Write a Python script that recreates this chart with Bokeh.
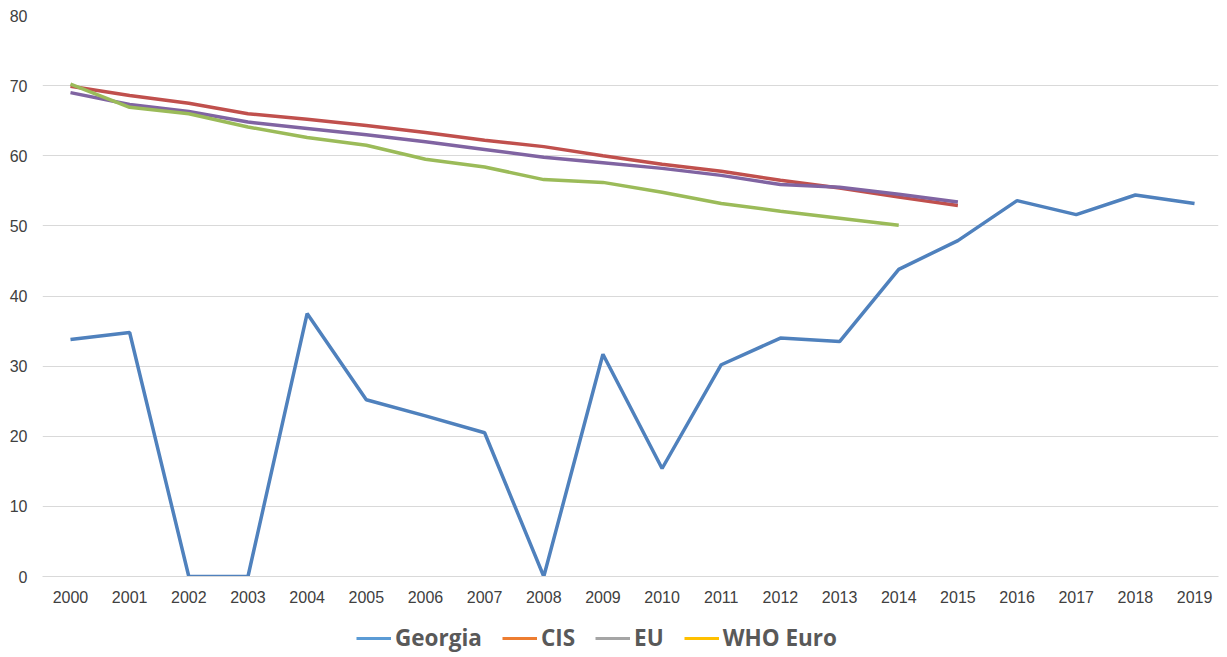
from bokeh.plotting import figure
from bokeh.models import Range1d, FixedTicker, Legend, LegendItem
from bokeh.layouts import column
from bokeh.embed import file_html
from bokeh.resources import INLINE

years = list(range(2000, 2020))
years_16 = list(range(2000, 2016))
years_15 = list(range(2000, 2015))

georgia = [33.8, 34.8, 0.0, 0.0, 37.5, 25.2, 22.9, 20.5, 0.0, 31.7,
           15.4, 30.2, 34.0, 33.5, 43.8, 47.9, 53.6, 51.6, 54.4, 53.2]
cis = [69.9, 68.6, 67.5, 66.0, 65.2, 64.3, 63.3, 62.2, 61.3, 60.0,
       58.8, 57.8, 56.5, 55.4, 54.1, 52.9]
eu = [69.0, 67.3, 66.3, 64.8, 63.9, 63.0, 62.0, 60.9, 59.8, 59.0,
      58.2, 57.2, 55.9, 55.5, 54.5, 53.4]
who_euro = [70.2, 66.9, 66.0, 64.1, 62.6, 61.5, 59.5, 58.4, 56.6, 56.2,
            54.8, 53.2, 52.1, 51.1, 50.1]

legend_labels = ["Georgia", "CIS", "EU", "WHO Euro"]
legend_colors = ["#5B9BD5", "#ED7D31", "#A5A5A5", "#FFC000"]
y_ticks = [0, 10, 20, 30, 40, 50, 60, 70, 80]

p = figure(width=1220, height=612, output_backend="svg", toolbar_location=None,
           x_range=Range1d(1999.527, 2019.405), y_range=Range1d(0, 80),
           min_border_left=42, min_border_right=2, min_border_top=15,
           min_border_bottom=36)
p.outline_line_color = None
p.background_fill_color = "white"
p.border_fill_color = "white"

p.xgrid.grid_line_color = None
p.ygrid.grid_line_color = "#D9D9D9"
p.ygrid.grid_line_width = 1
p.yaxis.ticker = FixedTicker(ticks=y_ticks)
p.xaxis.ticker = FixedTicker(ticks=years)

for ax in (p.xaxis, p.yaxis):
    ax.major_tick_line_color = None
    ax.minor_tick_line_color = None
    ax.major_tick_out = 0
    ax.major_tick_in = 0
    ax.minor_tick_out = 0
    ax.major_label_text_font = "Liberation Sans"
    ax.major_label_text_font_size = "16px"
    ax.major_label_text_color = "#404040"
p.yaxis.axis_line_color = None
p.xaxis.axis_line_color = "#D9D9D9"
p.yaxis.major_label_standoff = 15
p.xaxis.major_label_standoff = 14

p.line(years, georgia, line_color="#4F81BD", line_width=3.5)
p.line(years_16, cis, line_color="#C0504D", line_width=3.5)
p.line(years_16, eu, line_color="#8064A2", line_width=3.5)
p.line(years_15, who_euro, line_color="#9BBB59", line_width=3.5)

# legend strip underneath the chart
lg = figure(width=1220, height=45, output_backend="svg", toolbar_location=None,
            x_range=Range1d(0, 1), y_range=Range1d(0, 1),
            x_axis_location=None, y_axis_location=None,
            min_border=0, min_border_left=0, min_border_right=0,
            min_border_top=0, min_border_bottom=0)
lg.outline_line_color = None
lg.grid.visible = False
lg.border_fill_color = "white"

items = []
for lab, col in zip(legend_labels, legend_colors):
    r = lg.line([2, 3], [2, 3], line_color=col, line_width=3)
    items.append(LegendItem(label=lab, renderers=[r]))

legend = Legend(items=items, orientation="horizontal", location=(314, 4),
                border_line_color=None, background_fill_alpha=0,
                padding=0, margin=0, spacing=20, label_standoff=4,
                glyph_width=35, glyph_height=22,
                label_text_font="Open Sans", label_text_font_style="bold",
                label_text_font_size="22.5px", label_text_color="#595959")
lg.add_layout(legend, "center")

layout = column(p, lg, spacing=0)
open("out.html", "w").write(file_html(layout, INLINE))
